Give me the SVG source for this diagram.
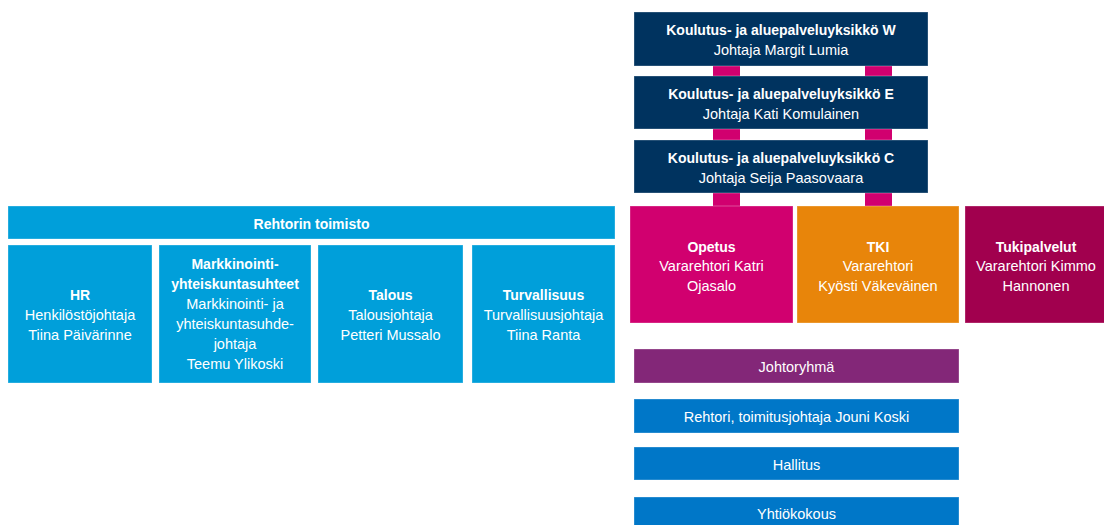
<svg xmlns="http://www.w3.org/2000/svg" width="1104" height="525" viewBox="0 0 1104 525">
  <style>
    text { font-family: "Liberation Sans", Arial, sans-serif; font-size: 14.5px; fill: #ffffff; text-anchor: middle; }
    .b { font-weight: bold; font-size: 14px; }
    rect.box { stroke: #ffffff; stroke-opacity: 0.3; stroke-width: 1; }
    .navy { fill: #00335f; }
    .pink { fill: #d1006f; }
    .orange { fill: #e8850a; }
    .wine { fill: #a1004e; }
    .sky { fill: #009fda; }
    .purple { fill: #832778; }
    .blue { fill: #0077c8; }
    .link { fill: #d1006f; }
  </style>
  <rect width="1104" height="525" fill="#ffffff"/>

  <!-- vertical links between the unit boxes and the vice-rector boxes -->
  <g id="connectors">
    <rect class="link" x="713" y="66" width="27" height="10"/>
    <rect class="link" x="865" y="66" width="27" height="10"/>
    <rect class="link" x="713" y="129" width="27" height="11"/>
    <rect class="link" x="865" y="129" width="27" height="11"/>
    <rect class="link" x="713" y="193" width="27" height="13"/>
    <rect class="link" x="865" y="193" width="27" height="13"/>
  </g>

  <g id="unit-w">
    <rect class="box navy" x="634" y="12" width="294" height="54"/>
    <text class="b" x="781" y="35">Koulutus- ja aluepalveluyksikkö W</text>
    <text x="781" y="55">Johtaja Margit Lumia</text>
  </g>
  <g id="unit-e">
    <rect class="box navy" x="634" y="76" width="294" height="53"/>
    <text class="b" x="781" y="99">Koulutus- ja aluepalveluyksikkö E</text>
    <text x="781" y="119">Johtaja Kati Komulainen</text>
  </g>
  <g id="unit-c">
    <rect class="box navy" x="634" y="140" width="294" height="53"/>
    <text class="b" x="781" y="163">Koulutus- ja aluepalveluyksikkö C</text>
    <text x="781" y="183">Johtaja Seija Paasovaara</text>
  </g>

  <g id="opetus">
    <rect class="box pink" x="630" y="206" width="163" height="117"/>
    <text class="b" x="711.5" y="252">Opetus</text>
    <text x="711.5" y="271">Vararehtori Katri</text>
    <text x="711.5" y="291">Ojasalo</text>
  </g>
  <g id="tki">
    <rect class="box orange" x="797" y="206" width="162" height="117"/>
    <text class="b" x="878" y="252">TKI</text>
    <text x="878" y="271">Vararehtori</text>
    <text x="878" y="291">Kyösti Väkeväinen</text>
  </g>
  <g id="tukipalvelut">
    <rect class="box wine" x="965" y="206" width="145" height="117"/>
    <text class="b" x="1036" y="252">Tukipalvelut</text>
    <text x="1036" y="271">Vararehtori Kimmo</text>
    <text x="1036" y="291">Hannonen</text>
  </g>

  <g id="rehtorin-toimisto">
    <rect class="box sky" x="8" y="206" width="607" height="33"/>
    <text class="b" x="311.5" y="229">Rehtorin toimisto</text>
  </g>
  <g id="hr">
    <rect class="box sky" x="8" y="245" width="144" height="138"/>
    <text class="b" x="80" y="300">HR</text>
    <text x="80" y="320">Henkilöstöjohtaja</text>
    <text x="80" y="340">Tiina Päivärinne</text>
  </g>
  <g id="markkinointi">
    <rect class="box sky" x="159" y="245" width="152" height="138"/>
    <text class="b" x="235" y="269">Markkinointi-</text>
    <text class="b" x="235" y="289">yhteiskuntasuhteet</text>
    <text x="235" y="309">Markkinointi- ja</text>
    <text x="235" y="329">yhteiskuntasuhde-</text>
    <text x="235" y="349">johtaja</text>
    <text x="235" y="369">Teemu Ylikoski</text>
  </g>
  <g id="talous">
    <rect class="box sky" x="318" y="245" width="145" height="138"/>
    <text class="b" x="390.5" y="300">Talous</text>
    <text x="390.5" y="320">Talousjohtaja</text>
    <text x="390.5" y="340">Petteri Mussalo</text>
  </g>
  <g id="turvallisuus">
    <rect class="box sky" x="472" y="245" width="143" height="138"/>
    <text class="b" x="543.5" y="300">Turvallisuus</text>
    <text x="543.5" y="320">Turvallisuusjohtaja</text>
    <text x="543.5" y="340">Tiina Ranta</text>
  </g>

  <g id="johtoryhma">
    <rect class="box purple" x="634" y="349" width="325" height="34"/>
    <text x="796.5" y="372">Johtoryhmä</text>
  </g>
  <g id="rehtori">
    <rect class="box blue" x="634" y="399" width="325" height="34"/>
    <text x="796.5" y="422">Rehtori, toimitusjohtaja Jouni Koski</text>
  </g>
  <g id="hallitus">
    <rect class="box blue" x="634" y="447" width="325" height="33"/>
    <text x="796.5" y="470">Hallitus</text>
  </g>
  <g id="yhtiokokous">
    <rect class="box blue" x="634" y="497" width="325" height="34"/>
    <text x="796.5" y="519">Yhtiökokous</text>
  </g>
</svg>
